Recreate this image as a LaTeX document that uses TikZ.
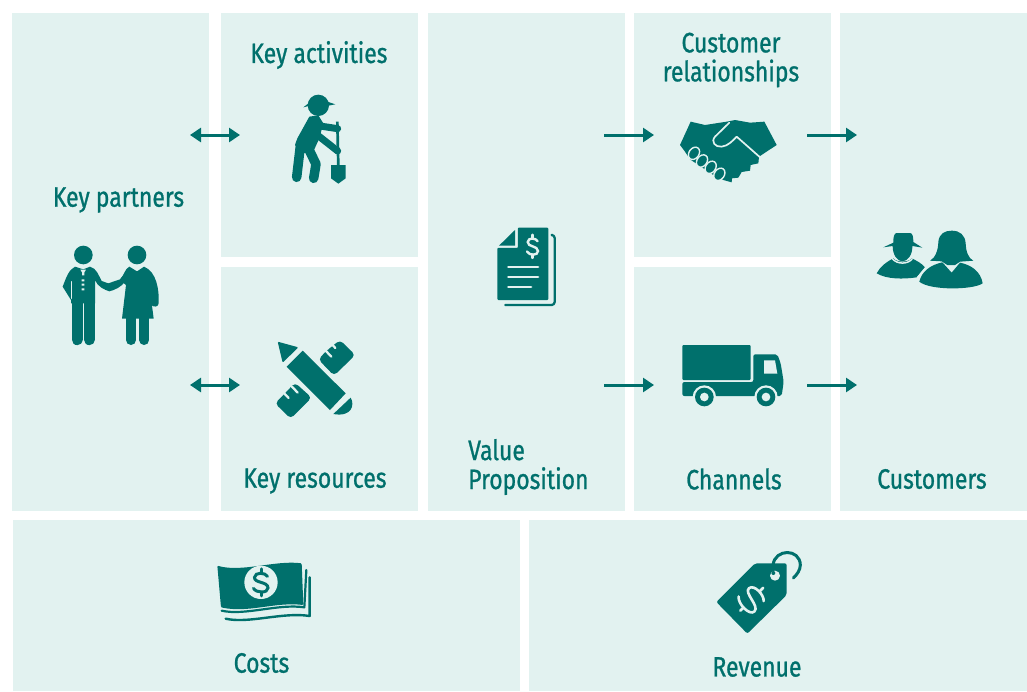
\documentclass[tikz,border=0pt]{standalone}
\usepackage{fontspec}
\setmainfont{Fira Sans}[FakeStretch=0.82,FakeBold=0.9]
\usetikzlibrary{arrows.meta,calc}
\definecolor{pale}{HTML}{E2F2F0}
\definecolor{teal2}{HTML}{00706C}
\def\dlw{2.4pt}
\tikzset{
  panel/.style={fill=pale,draw=none},
  lbl/.style={text=teal2,inner sep=0pt,font=\fontsize{28}{29}\selectfont,align=center},
  link/.style={draw=teal2,line width=3pt,-{Triangle[length=11pt,width=14pt,fill=teal2]}},
  dlink/.style={draw=teal2,line width=3pt,{Triangle[length=11pt,width=14pt,fill=teal2]}-{Triangle[length=11pt,width=14pt,fill=teal2]}},
  ink/.style={fill=teal2,draw=none},
  cut/.style={fill=pale,draw=none},
  cutline/.style={draw=pale,line cap=round,line join=round},
  inkline/.style={draw=teal2,line cap=round,line join=round},
  icon/.style={shift={#1},scale=1/3},
  dollarsign/.pic={
    \draw[pic actions,line width=\dlw,fill=none,line cap=round]
      (13,-12) .. controls (8,-20) and (-12,-21) .. (-13,-10)
      .. controls (-14,2) and (14,-2) .. (14,11)
      .. controls (14,22) and (-9,22) .. (-15,12);
    \draw[pic actions,line width=\dlw,fill=none,line cap=round] (0,-20) -- (0,-27) (0,20) -- (0,27);
  }
}
\begin{document}
\begin{tikzpicture}[x=1pt,y=-1pt]
\useasboundingbox (0,0) rectangle (1027,691);
% panels
\fill[panel] (12,13) rectangle (209,511);
\fill[panel] (221,13) rectangle (418,257);
\fill[panel] (221,267) rectangle (418,511);
\fill[panel] (428,13) rectangle (625,511);
\fill[panel] (634,13) rectangle (831,257);
\fill[panel] (634,267) rectangle (831,511);
\fill[panel] (840,13) rectangle (1027,511);
\fill[panel] (13,520) rectangle (520,691);
\fill[panel] (529,520) rectangle (1027,691);
% labels
\node[lbl] (tkp) at (118.5,200) {Key partners};
\node[lbl] (tka) at (319,55) {Key activities};
\node[lbl] (tkr) at (315,481) {Key resources};
\node[lbl,align=left,anchor=west] (tvp) at (468,467) {Value\\Proposition};
\node[lbl] (tcr) at (731,60) {Customer\\relationships};
\node[lbl] (tch) at (734,479) {Channels};
\node[lbl] (tcu) at (932,479) {Customers};
\node[lbl] (tco) at (261.5,663) {Costs};
\node[lbl] (tre) at (757,667) {Revenue};
% connectors
\coordinate (a1) at (190,135); \coordinate (a2) at (240,135);
\coordinate (b1) at (190,385); \coordinate (b2) at (240,385);
\coordinate (c1) at (604,135); \coordinate (c2) at (654,135);
\coordinate (d1) at (604,385); \coordinate (d2) at (654,385);
\coordinate (e1) at (807,135); \coordinate (e2) at (857,135);
\coordinate (f1) at (807,385); \coordinate (f2) at (857,385);
\draw[dlink] (a1) -- (a2);
\draw[dlink] (b1) -- (b2);
\draw[link] (c1) -- (c2);
\draw[link] (d1) -- (d2);
\draw[link] (e1) -- (e2);
\draw[link] (f1) -- (f2);
% partners + worker
\begin{scope}[icon={(40,90)}]
 % worker
 \fill[ink] (835,46) circle (32);
 \fill[ink] (790,52) -- (808,38) -- (862,35) -- (886,43) -- (860,48) -- (810,47) -- cycle;
 \fill[ink] (808,80) -- (835,76) -- (850,100) -- (838,145) -- (822,180) -- (790,190) -- (765,165) -- (772,145) -- cycle;
 \draw[inkline,line width=7pt] (840,108) -- (893,116);
 \draw[inkline,line width=7pt] (832,135) -- (893,183);
 \draw[inkline,line width=9.5pt] (782,160) -- (770,262);
 \draw[inkline,line width=9.5pt] (805,175) -- (828,222) -- (821,265);
 \draw[inkline,line width=2.7pt,line cap=butt] (892,95) -- (895,230);
 \fill[ink] (873,225) -- (917,225) -- (917,265) -- (895,281) -- (873,265) -- cycle;
 % man
 \fill[ink] (130,495) circle (28);
 \fill[ink] (105,530) .. controls (85,540) and (78,565) .. (68,590) -- (93,630) -- (93,640) -- (165,640) -- (165,570)
   .. controls (172,590) and (195,600) .. (208,604) .. controls (225,600) and (245,590) .. (255,575)
   -- (262,540) -- (240,568) -- (205,580) -- (185,573) .. controls (175,555) and (170,535) .. (150,530) -- (130,538) -- cycle;
 \draw[inkline,line width=11pt] (111,630) -- (111,749);
 \draw[inkline,line width=11pt] (148,630) -- (148,749);
 \fill[cut] (121,539) -- (138,539) -- (133,547) -- (133,556) -- (126,556) -- (126,547) -- cycle;
 \fill[cut] (125,568) rectangle (133,574) (125,581) rectangle (133,587) (125,595) rectangle (133,601);
 \draw[cutline,line width=1pt] (93,575) -- (93,625);
 % woman
 \fill[ink] (291,495) circle (28);
 \fill[ink] (268,530) .. controls (255,535) and (250,560) .. (240,570) -- (258,585) -- (246,686) -- (341,686) -- (330,600)
   -- (335,645) .. controls (340,652) and (355,652) .. (356,640) .. controls (358,600) and (350,545) .. (312,530) -- (291,544) -- cycle;
 \draw[inkline,line width=10pt] (273,680) -- (273,750);
 \draw[inkline,line width=10pt] (313,680) -- (313,750);
\end{scope}
% tools
\begin{scope}[icon={(260,330)}]
 \fill[ink] (128,62) -- (257,190) -- (210,240) -- (80,110) -- cycle;
 \fill[ink,rounded corners=1pt] (53,35) -- (115,52) -- (68,98) -- cycle;
 \fill[ink] (272,203) .. controls (285,225) and (275,262) .. (220,252) -- cycle;
 \fill[ink,rounded corners=4pt] (222,137) -- (286,75) -- (240,30) -- (200,62) -- (175,88) -- cycle;
 \fill[ink,rounded corners=4pt] (155,203) -- (92,266) -- (45,220) -- (75,190) -- (105,158) -- cycle;
 \draw[cutline,line width=2.3pt] (197,62) -- (214,80);
 \draw[cutline,line width=2.3pt] (215,42) -- (226,54);
 \draw[cutline,line width=2.3pt] (96,170) -- (113,188);
 \draw[cutline,line width=2.3pt] (74,192) -- (86,204);
\end{scope}
% document
\begin{scope}[icon={(480,215)}]
 \draw[inkline,line width=2.3pt,fill=none,rounded corners=3pt] (218,60) -- (224,60) -- (224,270) -- (76,270);
 \fill[ink,rounded corners=1pt] (113,38) -- (205,38) -- (205,255) -- (52,255) -- (52,98) -- (113,98) -- cycle;
 \fill[cut] (113,38) -- (113,98) -- (52,98) -- (52,92) -- (105,92) -- (105,38) -- cycle;
 \fill[ink] (105,45) -- (105,92) -- (57,92) -- cycle;
 \pic[draw=pale,xscale=0.38,yscale=0.43] at (158,94) {dollarsign};
 \draw[cutline,line width=2.7pt] (85,156) -- (174,156);
 \draw[cutline,line width=2.7pt] (85,186) -- (174,186);
 \draw[cutline,line width=2.7pt] (85,216) -- (153,216);
\end{scope}
% handshake
\begin{scope}[icon={(670,110)}]
 \fill[ink] (62,35) -- (105,45) -- (170,35) -- (195,30) -- (240,38) -- (283,35) -- (320,105) -- (267,140) -- (265,160)
   -- (242,165) -- (240,182) -- (215,186) -- (205,203) -- (186,205) -- (185,217) -- (160,210) -- (130,195) -- (60,148) -- (45,125) -- (30,105) -- cycle;
 \draw[cutline,line width=1.7pt,fill=none] (178,38) -- (135,80) .. controls (122,95) and (135,112) .. (155,110)
   .. controls (175,108) and (190,90) .. (200,80) -- (268,140);
 \foreach \ex/\ey in {72/130,96/153,122/172,148/193}
   \draw[draw=pale,line width=1.4pt,fill=teal2,rotate around={-35:(\ex,\ey)}] (\ex,\ey) ellipse (15 and 20);
\end{scope}
% truck
\begin{scope}[icon={(670,335)}]
 \fill[ink,rounded corners=1pt] (37,30) rectangle (242,135);
 \fill[ink,rounded corners=2pt] (37,141) -- (250,141) -- (250,58) -- (322,58) -- (332,85) -- (341,140) -- (335,183) -- (37,183) -- cycle;
 \fill[cut] (282,76) -- (315,76) -- (322,116) -- (282,116) -- cycle;
 \foreach \wx in {103,288} {
  \fill[cut] (\wx,186) circle (35);
  \fill[ink] (\wx,186) circle (28);
  \fill[cut] (\wx,186) circle (13);
 }
\end{scope}
% people
\begin{scope}[icon={(870,220)}]
 \fill[ink] (20,160) .. controls (30,140) and (50,125) .. (70,115) .. controls (80,128) and (115,128) .. (125,115)
   .. controls (140,122) and (155,130) .. (165,142) -- (140,172) .. controls (100,178) and (50,178) .. (20,160) -- cycle;
 \fill[ink] (40,82) -- (70,68) .. controls (70,50) and (72,40) .. (80,39) -- (120,39) .. controls (128,40) and (130,50) .. (130,66)
   -- (157,83) -- (127,78) .. controls (128,105) and (112,124) .. (97,124) .. controls (82,124) and (68,105) .. (68,78) -- cycle;
 \fill[cut] (66,112) .. controls (80,132) and (115,132) .. (128,112) -- (128,118) .. controls (115,136) and (80,136) .. (66,118) -- cycle;
 \fill[ink] (180,122) .. controls (195,115) and (205,90) .. (205,65) .. controls (208,40) and (225,32) .. (245,32)
   .. controls (270,32) and (285,45) .. (287,70) .. controls (288,95) and (295,115) .. (310,122) -- (270,125) -- (255,135) -- (232,135) -- (215,124) -- cycle;
 \fill[cut] (140,172) -- (168,138) -- (185,130) -- (160,165) -- cycle;
 \fill[ink] (148,185) .. controls (155,155) and (180,135) .. (217,127) -- (245,158) -- (270,128) .. controls (305,135) and (332,155) .. (338,190)
   .. controls (310,210) and (180,212) .. (148,185) -- cycle;
\end{scope}
% money
\begin{scope}[icon={(205,550)}]
 \draw[inkline,line width=2.2pt,fill=none] (50,182) .. controls (120,198) and (220,160) .. (298,172) -- (304,60);
 \draw[inkline,line width=2.4pt,fill=none] (62,206) .. controls (130,222) and (235,185) .. (314,198) -- (314,82);
 \fill[ink,rounded corners=1pt] (37,47) .. controls (110,68) and (210,30) .. (290,40) -- (295,165)
   .. controls (210,155) and (130,190) .. (48,172) -- cycle;
 \fill[cut] (168,97) circle (50);
 \def\dlw{3pt}
 \pic[draw=teal2,xscale=0.5,yscale=0.5] at (168,97) {dollarsign};
\end{scope}
% tag
\begin{scope}[icon={(705,540)}]
 \fill[ink,rounded corners=2pt] (150,70) -- (245,70) -- (245,165) -- (127,281) -- (34,186) -- cycle;
 \fill[cut] (210,107) circle (15);
 \fill[ink] (205,99) circle (6);
 \draw[inkline,line width=3pt,fill=none] (204,75) .. controls (210,25) and (285,25) .. (286,75) .. controls (286,90) and (275,105) .. (265,114);
 \def\dlw{2.6pt}
 \pic[draw=pale,rotate=-45,xscale=0.75,yscale=0.6] at (140,178) {dollarsign};
\end{scope}
\end{tikzpicture}
\end{document}
